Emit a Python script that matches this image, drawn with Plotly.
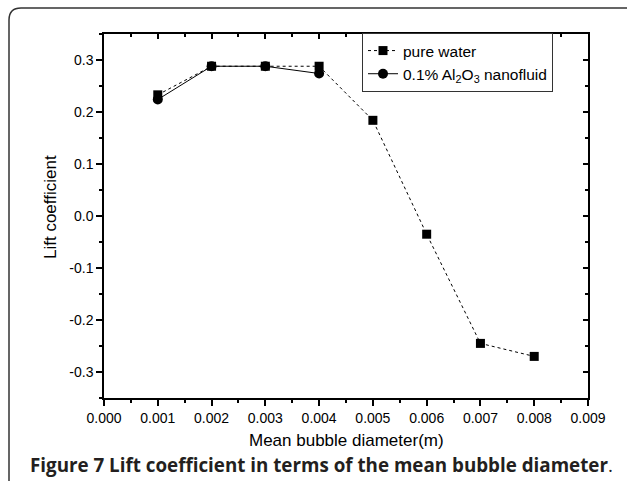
import plotly.graph_objects as go

# ---- data ----
diam_water = [0.001, 0.002, 0.003, 0.004, 0.005, 0.006, 0.007, 0.008]
lift_water = [0.233, 0.288, 0.288, 0.288, 0.184, -0.035, -0.245, -0.270]
diam_nano = [0.001, 0.002, 0.003, 0.004]
lift_nano = [0.224, 0.288, 0.288, 0.274]

x_tickvals = [0.000, 0.001, 0.002, 0.003, 0.004, 0.005, 0.006, 0.007, 0.008, 0.009]
x_ticktext = ["0.000", "0.001", "0.002", "0.003", "0.004", "0.005", "0.006", "0.007", "0.008", "0.009"]
y_tickvals = [-0.3, -0.2, -0.1, 0.0, 0.1, 0.2, 0.3]
y_ticktext = ["-0.3", "-0.2", "-0.1", "0.0", "0.1", "0.2", "0.3"]

W, H = 627, 481
L, R, T, B = 104, 588, 34, 398  # plot area in pixels

def px_x(p):
    return (p - L) / (R - L)

def px_y(p):
    return (B - p) / (B - T)

FONT = "Liberation Sans, Arial, sans-serif"

fig = go.Figure()
fig.add_trace(go.Scatter(
    x=diam_water, y=lift_water, mode="lines+markers", name="pure water",
    line=dict(color="black", width=1, dash="dot"),
    marker=dict(symbol="square", size=9, color="black"),
))
fig.add_trace(go.Scatter(
    x=diam_nano, y=lift_nano, mode="lines+markers",
    name="0.1% Al<sub>2</sub>O<sub>3</sub> nanofluid",
    line=dict(color="black", width=1),
    marker=dict(symbol="circle", size=10, color="black"),
))
# invisible trace to hold the mirrored (top/right) axes
fig.add_trace(go.Scatter(x=[0.0045], y=[0], xaxis="x2", yaxis="y2",
                         mode="markers", marker=dict(opacity=0),
                         showlegend=False, hoverinfo="skip"))

axis_common = dict(showgrid=False, zeroline=False, showline=True,
                   linecolor="black", linewidth=1.5, tickcolor="black",
                   tickwidth=1.5)

fig.update_layout(
    width=W, height=H,
    margin=dict(l=L, r=W - R, t=T, b=H - B, autoexpand=False),
    paper_bgcolor="white", plot_bgcolor="white",
    font=dict(family=FONT, color="black", size=14),
    showlegend=True,
    legend=dict(x=px_x(362), y=px_y(33), xanchor="left", yanchor="top",
                bordercolor="#333333", borderwidth=1, bgcolor="white",
                font=dict(family=FONT, size=15.5, color="black"),
                tracegroupgap=0, itemwidth=30),
    xaxis=dict(range=[0, 0.009], tickvals=x_tickvals, ticktext=x_ticktext,
               ticks="outside", ticklen=6,
               minor=dict(dtick=0.0005, ticks="outside", ticklen=3,
                          tickcolor="black", tickwidth=1.5),
               tickfont=dict(size=14), **axis_common),
    yaxis=dict(range=[-0.35, 0.35], tickvals=y_tickvals, ticktext=y_ticktext,
               ticks="outside", ticklen=6,
               minor=dict(dtick=0.05, ticks="outside", ticklen=3,
                          tickcolor="black", tickwidth=1.5),
               tickfont=dict(size=14), **axis_common),
    xaxis2=dict(range=[0, 0.009], overlaying="x", side="top",
                tickvals=x_tickvals, showticklabels=False, ticks="inside",
                ticklen=5,
                minor=dict(dtick=0.0005, ticks="inside", ticklen=3,
                           tickcolor="black", tickwidth=1.5),
                **axis_common),
    yaxis2=dict(range=[-0.35, 0.35], overlaying="y", side="right",
                tickvals=y_tickvals, showticklabels=False, ticks="inside",
                ticklen=5,
                minor=dict(dtick=0.05, ticks="inside", ticklen=3,
                           tickcolor="black", tickwidth=1.5),
                anchor="x", **axis_common),
)

# axis titles
fig.add_annotation(text="Mean bubble diameter(m)", xref="paper", yref="paper",
                   x=px_x(346), y=px_y(440), xanchor="center", yanchor="middle",
                   showarrow=False, font=dict(family=FONT, size=17, color="black"))
fig.add_annotation(text="Lift coefficient", xref="paper", yref="paper",
                   x=px_x(50), y=px_y(207), xanchor="center", yanchor="middle",
                   textangle=-90, showarrow=False,
                   font=dict(family=FONT, size=17, color="black"))

# outer rounded frame (open to the right and bottom edges)
r = 12
path = (f"M {px_x(9)},{px_y(500)} L {px_x(9)},{px_y(8 + r)} "
        f"Q {px_x(9)},{px_y(8)} {px_x(9 + r)},{px_y(8)} L {px_x(650)},{px_y(8)}")
fig.add_shape(type="path", path=path, xref="paper", yref="paper",
              line=dict(color="#333333", width=1.5))

fig.add_annotation(
    text="<b>Figure 7 Lift coefficient in terms of the mean bubble diameter</b>.",
    xref="paper", yref="paper", x=px_x(28), y=px_y(465),
    xanchor="left", yanchor="middle", showarrow=False,
    font=dict(family="Open Sans, Noto Sans, sans-serif", size=18.8, color="#231f20"),
)

fig.write_html("out.html", config={"displayModeBar": False},
               post_script="document.body.style.margin='0';")
